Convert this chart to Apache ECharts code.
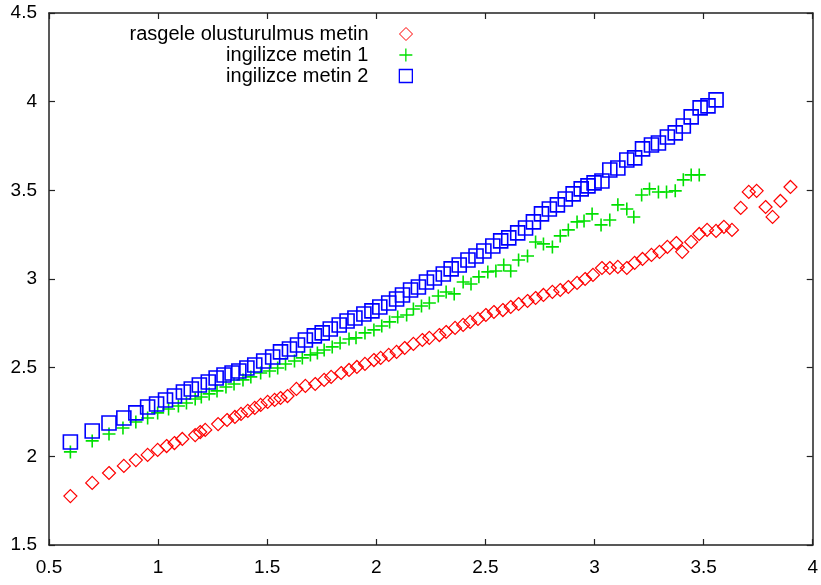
<!DOCTYPE html>
<html>
<head>
<meta charset="utf-8">
<script src="https://cdn.jsdelivr.net/npm/echarts@6/dist/echarts.min.js"></script>
<style>html,body{margin:0;padding:0;background:#fff}#c{width:821px;height:585px}</style>
</head>
<body>
<div id="c"></div>
<script>
var seriesNames = ['rasgele olusturulmus metin', 'ingilizce metin 1', 'ingilizce metin 2'];

var redX = [0.598,0.698,0.775,0.843,0.898,0.952,0.998,1.039,1.075,1.111,1.170,1.193,1.216,1.275,1.316,1.352,1.380,1.411,1.443,1.470,1.502,1.534,1.561,1.593,1.634,1.675,1.720,1.761,1.793,1.839,1.875,1.911,1.948,1.989,2.020,2.057,2.093,2.130,2.170,2.211,2.243,2.289,2.320,2.361,2.398,2.430,2.466,2.502,2.539,2.580,2.616,2.652,2.693,2.730,2.766,2.807,2.843,2.880,2.920,2.957,2.993,3.034,3.070,3.107,3.148,3.184,3.220,3.261,3.298,3.334,3.375,3.402,3.443,3.480,3.516,3.557,3.593,3.630,3.670,3.707,3.743,3.784,3.816,3.852,3.898];
var redY = [1.776,1.850,1.906,1.946,1.979,2.008,2.036,2.058,2.075,2.098,2.120,2.137,2.149,2.182,2.205,2.222,2.239,2.256,2.273,2.290,2.307,2.318,2.329,2.340,2.380,2.397,2.408,2.431,2.448,2.470,2.487,2.504,2.521,2.543,2.555,2.572,2.589,2.611,2.634,2.656,2.668,2.684,2.701,2.724,2.741,2.758,2.775,2.797,2.814,2.825,2.842,2.859,2.876,2.893,2.910,2.927,2.938,2.955,2.978,3.000,3.023,3.062,3.062,3.068,3.062,3.091,3.113,3.136,3.153,3.181,3.203,3.153,3.209,3.254,3.277,3.271,3.294,3.277,3.401,3.491,3.497,3.406,3.350,3.440,3.519];

var greenX = [0.598,0.698,0.775,0.839,0.898,0.952,0.998,1.048,1.093,1.130,1.170,1.198,1.234,1.270,1.311,1.348,1.389,1.425,1.470,1.511,1.548,1.584,1.625,1.661,1.698,1.730,1.761,1.798,1.834,1.875,1.907,1.948,1.989,2.025,2.061,2.098,2.139,2.170,2.207,2.243,2.284,2.320,2.357,2.398,2.434,2.470,2.511,2.548,2.584,2.616,2.652,2.693,2.730,2.766,2.807,2.843,2.880,2.920,2.952,2.989,3.030,3.070,3.107,3.148,3.180,3.216,3.252,3.293,3.330,3.370,3.407,3.443,3.480];
var greenY = [2.025,2.087,2.126,2.160,2.194,2.216,2.245,2.267,2.284,2.301,2.323,2.335,2.352,2.369,2.391,2.408,2.431,2.448,2.470,2.481,2.498,2.521,2.538,2.555,2.572,2.583,2.600,2.617,2.639,2.662,2.668,2.696,2.713,2.735,2.758,2.786,2.797,2.831,2.848,2.865,2.904,2.927,2.916,2.983,2.972,3.012,3.040,3.045,3.079,3.045,3.107,3.130,3.209,3.198,3.181,3.243,3.277,3.322,3.327,3.367,3.305,3.333,3.418,3.395,3.350,3.474,3.508,3.491,3.491,3.497,3.559,3.587,3.587];

var blueX = [0.598,0.698,0.775,0.843,0.898,0.952,0.993,1.034,1.075,1.116,1.152,1.189,1.230,1.266,1.302,1.339,1.370,1.407,1.443,1.484,1.525,1.561,1.602,1.639,1.675,1.716,1.752,1.789,1.830,1.866,1.902,1.943,1.980,2.016,2.057,2.093,2.120,2.157,2.193,2.230,2.266,2.307,2.343,2.380,2.420,2.457,2.493,2.534,2.570,2.607,2.648,2.684,2.720,2.757,2.793,2.830,2.866,2.902,2.939,2.970,2.998,3.034,3.070,3.107,3.148,3.184,3.220,3.261,3.293,3.334,3.370,3.407,3.443,3.484,3.520,3.557];
var blueY = [2.081,2.143,2.188,2.216,2.245,2.278,2.295,2.318,2.340,2.363,2.380,2.402,2.419,2.442,2.459,2.470,2.481,2.498,2.515,2.538,2.560,2.589,2.605,2.628,2.656,2.679,2.696,2.718,2.741,2.763,2.780,2.803,2.820,2.842,2.865,2.887,2.910,2.938,2.955,2.983,3.006,3.028,3.057,3.079,3.107,3.130,3.158,3.186,3.215,3.232,3.260,3.288,3.322,3.367,3.395,3.418,3.451,3.480,3.508,3.525,3.542,3.553,3.615,3.626,3.671,3.683,3.734,3.756,3.767,3.801,3.824,3.863,3.914,3.965,3.976,4.010];

function zip(xs, ys) { return xs.map(function (x, i) { return [x, ys[i]]; }); }

var FONT = '"Liberation Sans", Arial, sans-serif';
var plusPath = 'path://M0,6L12,6M6,0L6,12';

var chart = echarts.init(document.getElementById('c'), null, {renderer: 'canvas'});

var axisLine = {show: true, onZero: false, lineStyle: {color: '#222', width: 1.5}};
var axisTick = {show: true, inside: true, length: 6, lineStyle: {color: '#222', width: 1.2}};
var labelStyle = {color: '#000', fontSize: 19, fontFamily: FONT};

function legendFor(name, color, bw, right, top) {
  return {
    data: [{name: name}],
    right: right, top: top, padding: 0,
    align: 'right', orient: 'vertical',
    itemWidth: 13, itemHeight: 13,
    selectedMode: false,
    itemStyle: {color: 'rgba(255,255,255,0)', borderColor: color, borderWidth: bw},
    textStyle: {color: '#000', fontSize: 20, fontFamily: FONT, padding: [0, 26, 0, 0]}
  };
}

chart.setOption({
  animation: false,
  backgroundColor: '#fff',
  grid: {left: 49, right: 4, top: 13, bottom: 40, containLabel: false},
  legend: [
    legendFor(seriesNames[0], '#ff0000', 1, 408, 24),
    legendFor(seriesNames[1], '#00e000', 1.3, 408, 45),
    legendFor(seriesNames[2], '#0000ff', 1.3, 408, 66)
  ],
  xAxis: [
    {type: 'value', position: 'bottom', min: 0.5, max: 4, interval: 0.5,
     axisLine: axisLine, axisTick: axisTick, splitLine: {show: false},
     axisLabel: Object.assign({margin: 13}, labelStyle)},
    {type: 'value', position: 'top', min: 0.5, max: 4, interval: 0.5,
     axisLine: axisLine, axisTick: axisTick, splitLine: {show: false},
     axisLabel: {show: false}}
  ],
  yAxis: [
    {type: 'value', position: 'left', min: 1.5, max: 4.5, interval: 0.5,
     axisLine: axisLine, axisTick: axisTick, splitLine: {show: false},
     axisLabel: Object.assign({margin: 12}, labelStyle)},
    {type: 'value', position: 'right', min: 1.5, max: 4.5, interval: 0.5,
     axisLine: axisLine, axisTick: axisTick, splitLine: {show: false},
     axisLabel: {show: false}}
  ],
  series: [
    {name: seriesNames[0], type: 'scatter', data: zip(redX, redY),
     symbol: 'diamond', symbolSize: 13,
     itemStyle: {color: 'rgba(255,255,255,0)', borderColor: '#ff0000', borderWidth: 1.2, opacity: 1}},
    {name: seriesNames[1], type: 'scatter', data: zip(greenX, greenY),
     symbol: plusPath, symbolSize: 13,
     itemStyle: {color: 'rgba(255,255,255,0)', borderColor: '#00e000', borderWidth: 1.6, opacity: 1}},
    {name: seriesNames[2], type: 'scatter', data: zip(blueX, blueY),
     symbol: 'rect', symbolSize: 14,
     itemStyle: {color: 'rgba(255,255,255,0)', borderColor: '#0000ff', borderWidth: 1.6, opacity: 1}}
  ]
});
</script>
</body>
</html>
